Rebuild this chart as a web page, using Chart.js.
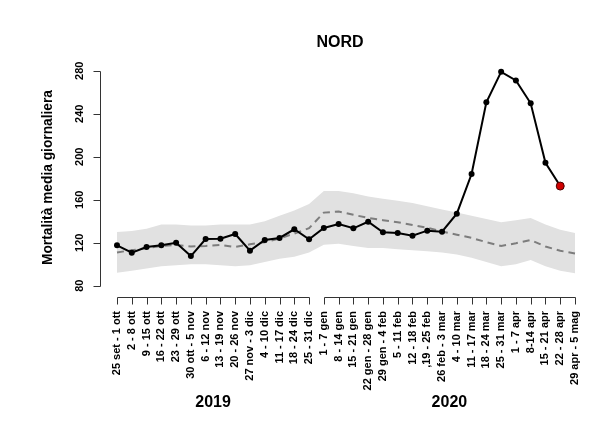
<!DOCTYPE html>
<html><head><meta charset="utf-8">
<script src="https://cdn.jsdelivr.net/npm/chart.js@4/dist/chart.umd.min.js"></script>
<style>html,body{margin:0;padding:0;background:#fff}</style>
</head><body>
<canvas id="c" width="611" height="439"></canvas>
<script>
const categories = ['25 set - 1 ott','2 - 8 ott','9 - 15 ott','16 - 22 ott','23 - 29 ott','30 ott - 5 nov','6 - 12 nov','13 - 19 nov','20 - 26 nov','27 nov - 3 dic','4 - 10 dic','11 - 17 dic','18 - 24 dic','25 - 31 dic',
  '1 - 7 gen','8 - 14 gen','15 - 21 gen','22 gen - 28 gen','29 gen - 4 feb','5 - 11 feb','12 - 18 feb',',19 - 25 feb','26 feb - 3 mar','4 - 10 mar','11 - 17 mar','18 - 24 mar','25 - 31 mar','1 - 7 apr','8-14 apr','15 - 21 apr','22 - 28 apr','29 apr - 5 mag'];
const observed = [117.6,110.7,116,117.6,120,107.6,123.4,123.7,128.1,112.6,122.5,124.4,132.5,123.2,
  133.7,137.4,133.4,139.5,129.7,129,126.5,131.2,130.2,147,183.9,250.6,279,271,249.7,194.4,172.7,null];
const expected = [111,113,115,117,118,116.5,117,118,116,118.5,120.5,124,128.5,133.5,
  148,149,146,143,141,139,136.5,134,130.5,127.5,124.5,120.5,117,119.5,122.5,116.5,112.5,110];
const bandUpper = [130,131,133,137,137,136,136,137,137,137,140,145,150,156,
  168,168,166,163,161,159,157,154,151,148,145,142,139,141,143,137,132,129];
const bandLower = [92,94,96,98,99,100,100,99,98,99,102,105,107,111,
  118,119,117,115,115,114,113,112,111,109,106,102,98,100,104,98,94,91.5];
const yTicks = [80,120,160,200,240,280];
const yearLabels = ['2019','2020'];
const yearGroups = [[0,13],[14,31]];
const chartTitle = 'NORD';
const yTitle = 'Mortalità media giornaliera';

const FONT = '"Liberation Sans", Arial, Helvetica, sans-serif';
const lastIdx = observed.reduce((a,v,i)=> v!==null ? i : a, 0);

const axesPlugin = {
  id: 'rAxes',
  afterDraw(chart) {
    const ctx = chart.ctx, xs = chart.scales.x, ys = chart.scales.y;
    const area = chart.chartArea;
    ctx.save();
    ctx.strokeStyle = '#333'; ctx.lineWidth = 1; ctx.fillStyle = '#000';
    // y axis
    const yx = 100.5;
    ctx.beginPath();
    ctx.moveTo(yx, Math.round(ys.getPixelForValue(yTicks[0]))+0.5);
    ctx.lineTo(yx, Math.round(ys.getPixelForValue(yTicks[yTicks.length-1]))+0.5);
    yTicks.forEach(v=>{ const py=Math.round(ys.getPixelForValue(v))+0.5; ctx.moveTo(yx,py); ctx.lineTo(yx-7,py); });
    ctx.stroke();
    ctx.font = 'bold 11px ' + FONT;
    ctx.textAlign = 'center'; ctx.textBaseline = 'alphabetic';
    yTicks.forEach(v=>{
      const py = ys.getPixelForValue(v);
      ctx.save(); ctx.translate(82.5, py); ctx.rotate(-Math.PI/2); ctx.fillText(String(v),0,0); ctx.restore();
    });
    // y title
    ctx.font = 'bold 13.75px ' + FONT;
    ctx.save(); ctx.translate(52, 177.5); ctx.rotate(-Math.PI/2); ctx.fillText(yTitle,0,0); ctx.restore();
    // x axis brackets
    const ax = area.bottom + 0.5;
    ctx.beginPath();
    yearGroups.forEach(([a,b])=>{
      ctx.moveTo(Math.round(xs.getPixelForValue(a))+0.5, ax);
      ctx.lineTo(Math.round(xs.getPixelForValue(b))+0.5, ax);
      for (let i=a;i<=b;i++){ const px=Math.round(xs.getPixelForValue(i))+0.5; ctx.moveTo(px,ax); ctx.lineTo(px,ax+7); }
    });
    ctx.stroke();
    // year labels
    ctx.font = 'bold 16px ' + FONT;
    ctx.textAlign = 'center';
    yearGroups.forEach(([a,b],k)=>{
      const cx = (xs.getPixelForValue(a)+xs.getPixelForValue(b))/2;
      ctx.fillText(yearLabels[k], cx, 407);
    });
    // title
    ctx.fillText(chartTitle, 340, 46.5);
    ctx.restore();
  }
};

new Chart(document.getElementById('c'), {
  type: 'line',
  data: {
    labels: categories,
    datasets: [
      { label:'lower', data: bandLower, borderWidth:0, pointRadius:0, fill:false, borderColor:'rgba(0,0,0,0)', order:4 },
      { label:'upper', data: bandUpper, borderWidth:0, pointRadius:0, fill:'-1', borderColor:'rgba(0,0,0,0)', backgroundColor:'#e1e1e1', order:3 },
      { label:'expected', data: expected, borderColor:'#7d7d7d', borderWidth:2, borderDash:[7,5], pointRadius:0, fill:false, order:2 },
      { label:'observed', data: observed, borderColor:'#000', borderWidth:2, fill:false, order:1, clip:false,
        pointRadius: observed.map((v,i)=> i===lastIdx ? 4 : 3),
        pointBackgroundColor: observed.map((v,i)=> i===lastIdx ? '#d10000' : '#000'),
        pointBorderColor: observed.map((v,i)=> i===lastIdx ? '#4a0000' : '#000'),
        pointBorderWidth: observed.map((v,i)=> i===lastIdx ? 1 : 0) }
    ]
  },
  options: {
    responsive:false, animation:false, devicePixelRatio:1,
    layout:{ padding:{ left:117, right:36, top:62, bottom:0 } },
    plugins:{ legend:{display:false}, tooltip:{enabled:false}, title:{display:false} },
    elements:{ line:{ tension:0 } },
    scales:{
      x:{ type:'category', offset:false,
          grid:{display:false, drawTicks:false}, border:{display:false},
          ticks:{ autoSkip:false, minRotation:90, maxRotation:90, padding:14, color:'#000',
                  font:{ family:FONT, size:11, weight:'bold' } },
          afterFit(s){ s.height = 142; } },
      y:{ display:false, min:69.5, max:288.1 }
    }
  },
  plugins:[axesPlugin]
});
</script>
</body></html>
